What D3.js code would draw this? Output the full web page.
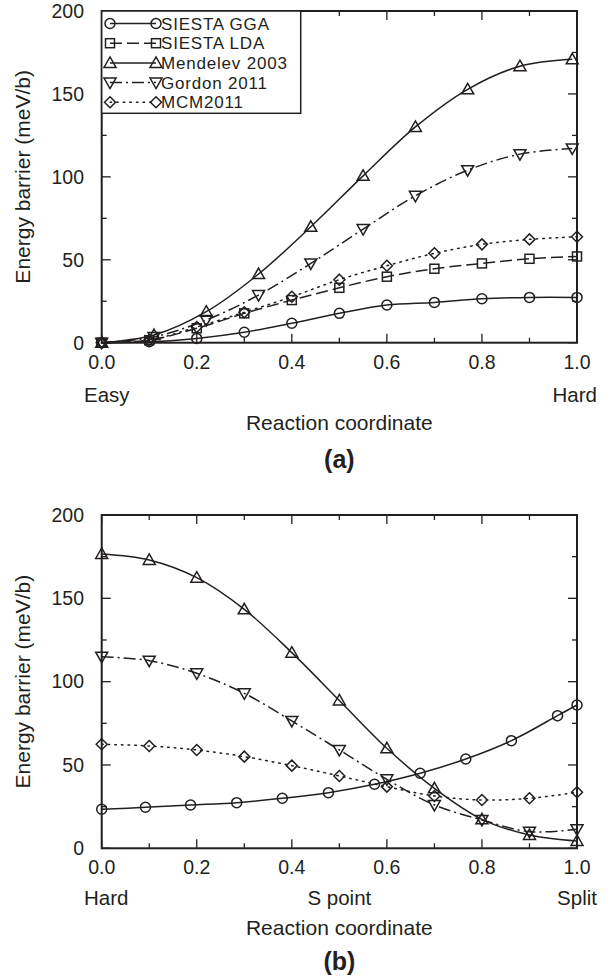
<!DOCTYPE html>
<html lang="en">
<head>
    <meta charset="UTF-8">
    <title>Energy barrier vs reaction coordinate</title>
    <style>
        body {
            margin: 0;
            background: #fff;
            font-family: "Liberation Sans", Arial, sans-serif;
        }
        svg text {
            fill: #231f20;
        }
    </style>
</head>
<body>
<div id="chart"></div>

<script src="https://d3js.org/d3.v7.min.js"></script>
<script>
    // ---- data ----
    const xTicks = [0, 0.2, 0.4, 0.6, 0.8, 1.0];
    const yTicks = [0, 50, 100, 150, 200];

    // panel (a): easy -> hard
    const aStepX = [0, 0.1, 0.2, 0.3, 0.4, 0.5, 0.6, 0.7, 0.8, 0.9, 1.0];
    const aMdX = [0, 0.11, 0.22, 0.33, 0.44, 0.55, 0.66, 0.77, 0.88, 0.99];
    const aGga = [0, 0.6, 2.6, 6.3, 11.7, 17.7, 22.7, 24.3, 26.5, 27.3, 27.3];
    const aLda = [0, 1.5, 8.7, 17.7, 25.7, 33.1, 39.8, 44.6, 47.8, 50.6, 52.0];
    const aMendelev = [0, 4.6, 18.7, 41.4, 69.9, 100.6, 130.1, 152.8, 166.7, 170.9];
    const aGordon = [0, 3.5, 13.7, 28.7, 47.8, 68.5, 88.6, 104.0, 113.7, 117.1];
    const aMcm = [0, 1.5, 9.5, 18.3, 27.7, 38.0, 46.4, 53.9, 59.3, 62.3, 63.9];

    // panel (b): hard -> split
    const bStepX = [0, 0.1, 0.2, 0.3, 0.4, 0.5, 0.6, 0.7, 0.8, 0.9, 1.0];
    const bGgaX = [0, 0.092, 0.187, 0.284, 0.38, 0.477, 0.574, 0.67, 0.766, 0.862, 0.959, 1.0];
    const bGga = [23.4, 24.6, 26.0, 27.4, 30.0, 33.4, 38.4, 45.0, 53.6, 64.6, 79.6, 86.0];
    const bMendelev = [176.6, 173.0, 162.4, 143.4, 117.4, 88.7, 60.0, 36.0, 17.4, 8.0, 4.4];
    const bGordon = [115.0, 112.6, 105.0, 93.0, 76.4, 59.0, 41.4, 26.0, 17.0, 10.0, 11.4];
    const bMcm = [62.4, 61.4, 59.0, 55.0, 49.6, 43.4, 37.0, 31.4, 29.0, 30.0, 33.6];

    const legendNames = ["SIESTA GGA", "SIESTA LDA", "Mendelev 2003", "Gordon 2011", "MCM2011"];

    // ---- styles per series ----
    const ink = "#231f20";
    const styles = {
        gga: { dash: null, marker: "circle" },
        lda: { dash: "12,5", marker: "square" },
        mendelev: { dash: null, marker: "triangle" },
        gordon: { dash: "12,4,2,4", marker: "down" },
        mcm: { dash: "1.6,5", marker: "diamond" }
    };

    const zip = (xs, ys) => ys.map((y, i) => [xs[i], y]);

    const panels = [
        {
            top: 11, bottom: 342.7, tag: "(a)", subY: 59, tagY: 125,
            sub: [["Easy", 0, "start"], ["Hard", 1, "end"]],
            legend: true,
            series: [
                ["gga", zip(aStepX, aGga)],
                ["lda", zip(aStepX, aLda)],
                ["mendelev", zip(aMdX, aMendelev)],
                ["gordon", zip(aMdX, aGordon)],
                ["mcm", zip(aStepX, aMcm)]
            ]
        },
        {
            top: 515, bottom: 848.3, tag: "(b)", subY: 57, tagY: 122,
            sub: [["Hard", 0, "start"], ["S point", 0.5, "middle"], ["Split", 1, "end"]],
            legend: false,
            series: [
                ["mendelev", zip(bStepX, bMendelev)],
                ["gordon", zip(bStepX, bGordon)],
                ["mcm", zip(bStepX, bMcm)],
                ["gga", zip(bGgaX, bGga)]
            ]
        }
    ];

    const width = 612, height = 978;
    const left = 101.7, right = 577;

    const svg = d3.select("#chart")
        .append("svg")
        .attr("width", width)
        .attr("height", height);

    svg.append("rect").attr("width", width).attr("height", height).attr("fill", "#fff");

    const x = d3.scaleLinear().domain([0, 1]).range([left, right]);

    function drawMarker(g, type, cx, cy) {
        let m;
        if (type === "circle") {
            m = g.append("circle").attr("cx", cx).attr("cy", cy).attr("r", 5);
        } else if (type === "square") {
            m = g.append("rect").attr("x", cx - 4.5).attr("y", cy - 4.5).attr("width", 9).attr("height", 9);
        } else if (type === "triangle") {
            m = g.append("path").attr("d", `M${cx},${cy - 6}L${cx + 6},${cy + 4.5}L${cx - 6},${cy + 4.5}Z`);
        } else if (type === "down") {
            m = g.append("path").attr("d", `M${cx},${cy + 6}L${cx + 6},${cy - 4.5}L${cx - 6},${cy - 4.5}Z`);
        } else {
            m = g.append("path").attr("d", `M${cx},${cy - 5.5}L${cx + 5.5},${cy}L${cx},${cy + 5.5}L${cx - 5.5},${cy}Z`);
        }
        m.attr("fill", "none").attr("stroke", ink).attr("stroke-width", 1.5);
    }

    panels.forEach(p => {
        const y = d3.scaleLinear().domain([0, 200]).range([p.bottom, p.top]);
        const g = svg.append("g");

        const line = d3.line()
            .x(d => x(d[0]))
            .y(d => y(d[1]))
            .curve(d3.curveCatmullRom.alpha(0.5));

        // curves + markers
        p.series.forEach(([key, pts]) => {
            const s = styles[key];
            g.append("path")
                .datum(pts)
                .attr("d", line)
                .attr("fill", "none")
                .attr("stroke", ink)
                .attr("stroke-width", 1.5)
                .attr("stroke-linecap", key === "mcm" ? "round" : "butt")
                .attr("stroke-dasharray", s.dash);
            pts.forEach(d => drawMarker(g, s.marker, x(d[0]), y(d[1])));
        });

        // inward ticks on all four sides
        const ticks = g.append("g").attr("stroke", ink).attr("stroke-width", 1.3);
        d3.range(0, 1.0001, 0.1).forEach((v, i) => {
            const len = i % 2 === 0 ? 9 : 5;
            ticks.append("line").attr("x1", x(v)).attr("x2", x(v)).attr("y1", p.bottom).attr("y2", p.bottom - len);
            ticks.append("line").attr("x1", x(v)).attr("x2", x(v)).attr("y1", p.top).attr("y2", p.top + len);
        });
        d3.range(0, 200.01, 25).forEach((v, i) => {
            const len = i % 2 === 0 ? 9 : 5;
            ticks.append("line").attr("y1", y(v)).attr("y2", y(v)).attr("x1", left).attr("x2", left + len);
            ticks.append("line").attr("y1", y(v)).attr("y2", y(v)).attr("x1", right).attr("x2", right - len);
        });

        // frame
        g.append("rect")
            .attr("x", left).attr("y", p.top)
            .attr("width", right - left).attr("height", p.bottom - p.top)
            .attr("fill", "none").attr("stroke", ink).attr("stroke-width", 2);

        // tick labels
        g.selectAll(".xl").data(xTicks).enter().append("text")
            .attr("x", d => x(d)).attr("y", p.bottom + 26)
            .attr("text-anchor", "middle").attr("font-size", 19.5)
            .text(d => d.toFixed(1));
        g.selectAll(".yl").data(yTicks).enter().append("text")
            .attr("x", 84).attr("y", d => y(d)).attr("dy", "0.35em")
            .attr("text-anchor", "end").attr("font-size", 19.5)
            .text(d => d);

        p.sub.forEach(([t, v, anchor]) => {
            g.append("text")
                .attr("x", anchor === "start" ? 84 : anchor === "end" ? 597 : x(v))
                .attr("y", p.bottom + p.subY)
                .attr("text-anchor", anchor).attr("font-size", 20.5)
                .text(t);
        });

        g.append("text")
            .attr("x", (left + right) / 2).attr("y", p.bottom + 87)
            .attr("text-anchor", "middle").attr("font-size", 21)
            .text("Reaction coordinate");

        g.append("text")
            .attr("transform", `translate(30,${(p.top + p.bottom) / 2}) rotate(-90)`)
            .attr("text-anchor", "middle").attr("font-size", 21)
            .text("Energy barrier (meV/b)");

        g.append("text")
            .attr("x", (left + right) / 2).attr("y", p.bottom + p.tagY)
            .attr("text-anchor", "middle").attr("font-size", 25).attr("font-weight", "bold")
            .text(p.tag);

        // legend (panel a only)
        if (p.legend) {
            const lg = g.append("g");
            lg.append("rect")
                .attr("x", left).attr("y", p.top)
                .attr("width", 300.7 - left).attr("height", 113.3 - p.top)
                .attr("fill", "#fff").attr("stroke", ink).attr("stroke-width", 1.5);
            const keys = ["gga", "lda", "mendelev", "gordon", "mcm"];
            keys.forEach((k, i) => {
                const cy = 23.5 + i * 19.7;
                const s = styles[k];
                lg.append("line")
                    .attr("x1", 110).attr("x2", 156).attr("y1", cy).attr("y2", cy)
                    .attr("stroke", ink).attr("stroke-width", 1.5)
                    .attr("stroke-linecap", k === "mcm" ? "round" : "butt")
                    .attr("stroke-dasharray", s.dash);
                drawMarker(lg, s.marker, 110, cy);
                drawMarker(lg, s.marker, 156, cy);
                lg.append("text")
                    .attr("x", 161).attr("y", cy).attr("dy", "0.36em")
                    .attr("font-size", 17)
                    .attr("letter-spacing", 0.8)
                    .text(legendNames[i]);
            });
        }
    });
</script>
</body>
</html>
